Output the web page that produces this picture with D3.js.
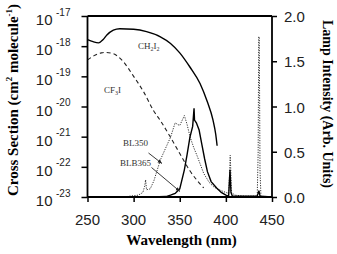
<!DOCTYPE html>
<html>
<head>
<meta charset="utf-8">
<script src="https://cdn.jsdelivr.net/npm/d3@7"></script>
<style>
html,body{margin:0;padding:0;background:#fff;}
svg{display:block;}
</style>
</head>
<body>
<svg id="chart" width="337" height="254"></svg>
<script>
// ---- data ----
const xTicks = [250, 300, 350, 400, 450];
const yExponents = [-17, -18, -19, -20, -21, -22, -23];
const rightTicks = [0.0, 0.5, 1.0, 1.5, 2.0];

const ch2i2Wave = [250, 256, 262, 267, 271, 278, 285, 300, 314, 329, 340, 350, 361, 372, 380, 386, 389, 390.5];
const ch2i2Sigma = [1.66e-18, 1.41e-18, 1.29e-18, 1.66e-18, 2.34e-18, 3.39e-18, 3.8e-18, 3.63e-18, 3.02e-18, 2.04e-18, 1.23e-18, 6.0e-19, 2.04e-19, 5.8e-20, 1.4e-20, 3.6e-21, 1.2e-21, 5.0e-22];

const cf3iWave = [250, 258, 265, 269, 278, 289, 300, 311, 321.5, 329, 340, 350.5, 361, 376];
const cf3iSigma = [3.5e-19, 5.0e-19, 6.0e-19, 6.2e-19, 5.6e-19, 3.0e-19, 1.0e-19, 3.0e-20, 7.4e-21, 3.4e-21, 9.5e-22, 2.6e-22, 7.4e-23, 2.0e-23];

const bl350Wave = [290, 296, 305, 310, 312, 313, 314, 318, 322, 329, 336, 340, 345, 348, 350, 355, 358, 361, 365, 369, 376, 382, 387, 395, 400, 403, 404, 404.7, 405.3, 406, 410, 420, 434, 435, 435.6, 436.2, 437, 438, 450];
const bl350Int = [0, 0.01, 0.02, 0.05, 0.12, 0.19, 0.08, 0.09, 0.18, 0.41, 0.57, 0.66, 0.82, 0.80, 0.79, 0.90, 0.80, 0.67, 0.55, 0.45, 0.26, 0.16, 0.11, 0.07, 0.05, 0.04, 0.25, 0.46, 0.30, 0.05, 0.02, 0.01, 0.01, 0.5, 1.77, 1.77, 0.3, 0.01, 0];

const blb365Wave = [320, 335, 340, 345, 350, 355, 358, 361, 364, 365.5, 366, 368, 371, 374, 377, 380, 384, 390, 395, 400, 403, 404.5, 405.5, 407, 434, 435.8, 437, 450];
const blb365Int = [0, 0.005, 0.02, 0.04, 0.09, 0.3, 0.47, 0.66, 0.78, 0.98, 0.85, 0.82, 0.74, 0.58, 0.42, 0.28, 0.17, 0.1, 0.05, 0.02, 0.01, 0.3, 0.05, 0.01, 0.01, 0.07, 0.01, 0];

// ---- layout ----
const svg = d3.select("#chart");
const L = 87.5, R = 272, T = 16, B = 197;
const x = d3.scaleLinear().domain([250, 450]).range([L, R]);
const y = d3.scaleLog().domain([1e-23, 1e-17]).range([B, T]);
const y2 = d3.scaleLinear().domain([0, 2]).range([B, T]);

const sans = "'Liberation Sans', Arial, sans-serif";
const serif = "'Liberation Serif', 'Times New Roman', serif";

// lines
const lineL = d3.line().x(d => x(d[0])).y(d => y(d[1])).curve(d3.curveMonotoneX);
const lineR = d3.line().x(d => x(d[0])).y(d => y2(d[1]));

svg.append("path").datum(d3.zip(cf3iWave, cf3iSigma))
  .attr("d", lineL).attr("fill", "none").attr("stroke", "#222")
  .attr("stroke-width", 1.1).attr("stroke-dasharray", "4,3");

svg.append("path").datum(d3.zip(bl350Wave, bl350Int))
  .attr("d", lineR).attr("fill", "none").attr("stroke", "#333")
  .attr("stroke-width", 1).attr("stroke-dasharray", "1.2,1.3");

svg.append("path").datum(d3.zip(blb365Wave, blb365Int))
  .attr("d", lineR).attr("fill", "none").attr("stroke", "#000")
  .attr("stroke-width", 1.4);

svg.append("path").datum(d3.zip(ch2i2Wave, ch2i2Sigma))
  .attr("d", lineL).attr("fill", "none").attr("stroke", "#000")
  .attr("stroke-width", 1.4);

// axes
const axW = 1.8;
const gB = svg.append("g").attr("transform", `translate(0,${B})`)
  .call(d3.axisBottom(x).tickValues(xTicks).tickSize(5).tickFormat(""));
const gL = svg.append("g").attr("transform", `translate(${L},0)`)
  .call(d3.axisLeft(y).tickValues(yExponents.map(e => Math.pow(10, e))).tickSize(6).tickFormat(""));
const gR = svg.append("g").attr("transform", `translate(${R},0)`)
  .call(d3.axisRight(y2).tickValues(rightTicks).tickSize(5).tickFormat(""));
[gB, gL, gR].forEach(g => {
  g.select(".domain").attr("stroke", "#000").attr("stroke-width", axW);
  g.selectAll(".tick line").attr("stroke", "#000").attr("stroke-width", 1.5);
});
gB.select(".domain").attr("d", `M${L},0H${R}`);
gL.select(".domain").attr("d", `M0,${T}V${B}`);
gR.select(".domain").attr("d", `M0,${T}V${B}`);
svg.append("line").attr("x1", L).attr("x2", R).attr("y1", T).attr("y2", T)
  .attr("stroke", "#000").attr("stroke-width", axW);

// tick labels
svg.append("g").selectAll("text").data(xTicks).join("text")
  .attr("x", d => x(d)).attr("y", 225).attr("text-anchor", "middle")
  .attr("font-family", sans).attr("font-size", 15).attr("fill", "#222")
  .text(d => d);

const yl = svg.append("g").selectAll("g").data(yExponents).join("g");
yl.append("text").attr("x", 52.5).attr("y", d => y(Math.pow(10, d)) + 9)
  .attr("text-anchor", "end").attr("font-family", sans).attr("font-size", 15).attr("fill", "#222")
  .text("10");
yl.append("text").attr("x", 56).attr("y", d => y(Math.pow(10, d)) - 0.5)
  .attr("font-family", sans).attr("font-size", 10).attr("fill", "#222")
  .text(d => d);

svg.append("g").selectAll("text").data(rightTicks).join("text")
  .attr("x", 284).attr("y", d => y2(d) + 6)
  .attr("font-family", sans).attr("font-size", 15).attr("fill", "#222")
  .text(d => d.toFixed(1));

// axis titles
svg.append("text").attr("x", 181.5).attr("y", 245).attr("text-anchor", "middle")
  .attr("font-family", serif).attr("font-weight", "bold").attr("font-size", 15)
  .text("Wavelength (nm)");

const lt = svg.append("text").attr("transform", "translate(18,100) rotate(-90)")
  .attr("text-anchor", "middle").attr("font-family", serif).attr("font-weight", "bold").attr("font-size", 15);
lt.append("tspan").text("Cross Section (cm");
lt.append("tspan").attr("font-size", 9).attr("dy", -6).text("2");
lt.append("tspan").attr("dy", 6).text(" molecule");
lt.append("tspan").attr("font-size", 9).attr("dy", -6).text("-1");
lt.append("tspan").attr("dy", 6).text(")");

svg.append("text").attr("transform", "translate(323,104) rotate(90)")
  .attr("text-anchor", "middle").attr("font-family", serif).attr("font-weight", "bold").attr("font-size", 14)
  .text("Lamp Intensity (Arb. Units)");

// annotations
const ann = (xx, yy) => svg.append("text").attr("x", xx).attr("y", yy)
  .attr("font-family", serif).attr("font-size", 9).attr("fill", "#333");
const t1 = ann(138, 49);
t1.append("tspan").text("CH");
t1.append("tspan").attr("font-size", 6).attr("dy", 2).text("2");
t1.append("tspan").attr("dy", -2).text("I");
t1.append("tspan").attr("font-size", 6).attr("dy", 2).text("2");
const t2 = ann(104, 93);
t2.append("tspan").text("CF");
t2.append("tspan").attr("font-size", 6).attr("dy", 2).text("3");
t2.append("tspan").attr("dy", -2).text("I");
ann(123, 146).text("BL350");
ann(120, 166).text("BLB365");

const defs = svg.append("defs");
defs.append("marker").attr("id", "ah").attr("viewBox", "0 0 10 10").attr("refX", 10).attr("refY", 5)
  .attr("markerWidth", 5).attr("markerHeight", 5).attr("orient", "auto")
  .append("path").attr("d", "M0,1L10,5L0,9Z").attr("fill", "#222");
svg.append("line").attr("x1", 148.5).attr("y1", 153).attr("x2", 162).attr("y2", 163.5)
  .attr("stroke", "#222").attr("stroke-width", 0.9).attr("marker-end", "url(#ah)");
svg.append("line").attr("x1", 151.5).attr("y1", 167.5).attr("x2", 180).attr("y2", 191.5)
  .attr("stroke", "#222").attr("stroke-width", 0.9).attr("marker-end", "url(#ah)");
</script>
</body>
</html>
